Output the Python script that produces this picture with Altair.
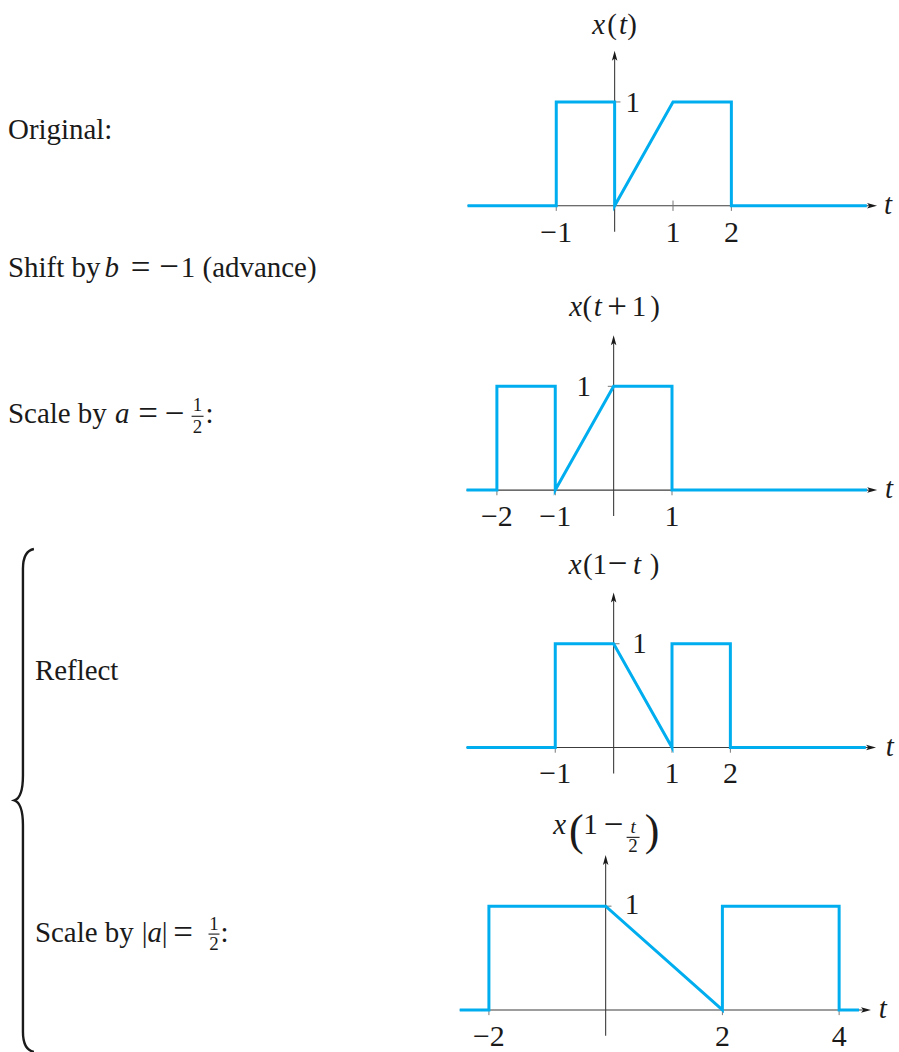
import altair as alt
import pandas as pd

W = 899
BLUE = "#00AEEF"
INK = "#1a1a1a"
AXIS = "#3c3c3c"
SERIF = "Liberation Serif"
FS = 29          # text and label size
FS_OP = 35       # binary operators (=, +, minus) in formulas
FS_SMALL = 19    # fraction digits
FS_BIG = 44      # tall parentheses
PX_T = 58.5      # pixels per unit of t
PX_Y = 104.0     # pixels per unit of amplitude

# ---- waveforms: breakpoints (t, value) ----
T_ORIG = [-2.52, -1, -1, 0, 0, 1, 2, 2, 4.32]
X_ORIG = [0, 0, 1, 1, 0, 1, 1, 0, 0]
T_SHIFT = [-2.52, -2, -2, -1, -1, 0, 1, 1, 4.34]
X_SHIFT = [0, 0, 1, 1, 0, 1, 1, 0, 0]
T_REFL = [-2.52, -1, -1, 0, 1, 1, 2, 2, 4.32]
X_REFL = [0, 0, 1, 1, 0, 1, 1, 0, 0]
T_HALF = [-2.5, -2, -2, 0, 2, 2, 4, 4, 4.34]
X_HALF = [0, 0, 1, 1, 0, 1, 1, 0, 0]

# ---- tick positions ----
TICKS_ORIG = [-1, 1, 2]
TICKS_SHIFT = [-2, -1, 1]
TICKS_REFL = [-1, 1, 2]
TICKS_HALF = [-2, 2, 4]


def tick_text(v):
    return ("\u2212" + str(abs(v))) if v < 0 else str(v)


ONE = pd.DataFrame({"k": [0]})

ARROW_RIGHT = "M -1 -0.55 L 1 0 L -1 0.55 L -0.55 0 Z"
ARROW_UP = "M -0.55 1 L 0 -1 L 0.55 1 L 0 0.55 Z"
BRACE = ("M 0.0438 -1.004 Q 0 -0.996 0 -0.924 L 0 -0.0996 Q 0 -0.012 -0.034 0 "
         "Q 0 0.012 0 0.0996 L 0 0.924 Q 0 0.996 0.0438 1.004")

# style shortcuts for formula pieces
IT = {"italic": True}
C = {"align": "center"}
ITC = {"italic": True, "align": "center"}
OP = {"size": FS_OP, "align": "center", "dy": 2}
NUM = {"size": FS_SMALL, "align": "center"}


class Panel:
    def __init__(self, top, h, axis_px, base_px):
        self.h = h
        self.xs = alt.Scale(domain=[-axis_px / PX_T, (W - axis_px) / PX_T], nice=False, zero=False)
        self.ys = alt.Scale(domain=[(base_px - top - h) / PX_Y, (base_px - top) / PX_Y],
                            nice=False, zero=False)
        self.layers = []

    def X(self, t):
        return alt.XDatum(t, type="quantitative", scale=self.xs, axis=None)

    def Y(self, y):
        return alt.YDatum(y, type="quantitative", scale=self.ys, axis=None)

    def text(self, t, y, s, dx=0, dy=0, italic=False, size=FS, align="left"):
        self.layers.append(
            alt.Chart(ONE).mark_text(
                text=s, dx=dx, dy=dy, font=SERIF, fontSize=size,
                fontStyle="italic" if italic else "normal",
                align=align, baseline="alphabetic", color=INK,
            ).encode(x=self.X(t), y=self.Y(y))
        )

    def pieces(self, t, y, items):
        for it in items:
            s, dx = it[0], it[1]
            opts = dict(it[2]) if len(it) > 2 else {}
            extra_dy = it[3] if len(it) > 3 else 0
            opts["dy"] = opts.get("dy", 0) + extra_dy
            self.text(t, y, s, dx=dx, **opts)

    def bar(self, t, y, dx0, dx1, dy):
        # fraction bar, offsets in pixels from the label anchor
        self.layers.append(
            alt.Chart(ONE).mark_rule(color=INK, strokeWidth=1.1).encode(
                x=self.X(t + dx0 / PX_T),
                x2=alt.X2Datum(t + dx1 / PX_T),
                y=self.Y(y - dy / PX_Y),
            )
        )

    def point(self, t, y, shape, size, filled=True, stroke_w=0):
        self.layers.append(
            alt.Chart(ONE).mark_point(
                shape=shape, size=size, filled=filled, opacity=1, color=INK,
                strokeWidth=stroke_w,
            ).encode(x=self.X(t), y=self.Y(y))
        )

    def signal(self, ts, vs, ticks, arrow_t):
        # axes
        axes = pd.DataFrame({
            "a": [ts[0], 0.0], "b": [arrow_t, 0.0],
            "c": [0.0, -0.25], "d": [0.0, 1.445],
        })
        self.layers.append(
            alt.Chart(axes).mark_rule(color=AXIS, strokeWidth=1.1).encode(
                x=alt.X("a:Q", scale=self.xs, axis=None), x2="b:Q",
                y=alt.Y("c:Q", scale=self.ys, axis=None), y2="d:Q",
            )
        )
        tk = pd.DataFrame({"t": ticks, "lo": [-0.05] * len(ticks), "hi": [0.05] * len(ticks)})
        self.layers.append(
            alt.Chart(tk).mark_rule(color="#777777", strokeWidth=1).encode(
                x=alt.X("t:Q", scale=self.xs, axis=None),
                y=alt.Y("lo:Q", scale=self.ys, axis=None), y2="hi:Q",
            )
        )
        self.layers.append(
            alt.Chart(ONE).mark_rule(color="#777777", strokeWidth=1).encode(
                x=self.X(-0.1), x2=alt.X2Datum(0.1), y=self.Y(1.0),
            )
        )
        # waveform
        df = pd.DataFrame({"t": ts, "v": vs, "i": list(range(len(ts)))})
        self.layers.append(
            alt.Chart(df).mark_line(color=BLUE, strokeWidth=3, strokeJoin="miter").encode(
                x=alt.X("t:Q", scale=self.xs, axis=None),
                y=alt.Y("v:Q", scale=self.ys, axis=None),
                order="i:Q",
            )
        )
        # arrowheads
        self.point(arrow_t, 0.0, ARROW_RIGHT, 100)
        self.point(0.0, 1.445, ARROW_UP, 100)
        # tick labels
        lab = pd.DataFrame({"t": ticks, "s": [tick_text(v) for v in ticks],
                            "y": [-0.346] * len(ticks)})
        self.layers.append(
            alt.Chart(lab).mark_text(font=SERIF, fontSize=FS + 1, align="center",
                                     baseline="alphabetic", color=INK).encode(
                x=alt.X("t:Q", scale=self.xs, axis=None),
                y=alt.Y("y:Q", scale=self.ys, axis=None),
                text="s:N",
            )
        )

    def chart(self):
        return alt.layer(*self.layers).properties(width=W, height=self.h)


# ---- panel 1: original ----
p1 = Panel(top=0, h=262, axis_px=615, base_px=204)
p1.signal(T_ORIG, X_ORIG, TICKS_ORIG, 4.41)
p1.text(0.308, 0.904, "1", align="center")
p1.text(4.615, -0.077, "t", italic=True)
p1.pieces(0.0, 1.654, [
    ("x", -16, ITC), ("(", -2.5, C), ("t", 8.5, ITC), (")", 17.5, C),
])
p1.text(-10.393, 0.644, "Original:")

# ---- panel 2: shifted ----
p2 = Panel(top=262, h=258, axis_px=614, base_px=489)
p2.signal(T_SHIFT, X_SHIFT, TICKS_SHIFT, 4.43)
p2.text(-0.513, 0.904, "1", align="center")
p2.text(4.65, -0.077, "t", italic=True)
p2.pieces(0.0, 1.673, [
    ("x", -38, ITC), ("(", -26.5, C), ("t", -16, ITC),
    ("+", 3.5, OP), ("1", 25.5, C), (")", 41.5, C),
])
p2.pieces(-10.376, 2.058, [
    ("Shift by", 0), ("b", 104, ITC), ("=", 133, OP),
    ("\u2212", 161.5, OP, -0.5), ("1", 180.5, C), ("(advance)", 195),
])
p2.pieces(-10.376, 0.644, [
    ("Scale by", 0), ("a", 114.5, ITC), ("=", 140.5, OP), ("\u2212", 167, OP, -0.5),
    ("1", 190, NUM, -12), ("2", 190, NUM, 10),
    (":", 202, C),
])
p2.bar(-10.376, 0.644, 184, 196, -7)

# ---- panel 3: reflected ----
p3 = Panel(top=520, h=270, axis_px=614, base_px=747)
p3.signal(T_REFL, X_REFL, TICKS_REFL, 4.41)
p3.text(0.444, 0.913, "1", align="center")
p3.text(4.66, -0.077, "t", italic=True)
p3.pieces(0.0, 1.673, [
    ("x", -38.5, ITC), ("(", -26, C), ("1", -14, C), ("\u2212", 4, OP, -0.5),
    ("t", 23.5, ITC), (")", 41, C),
])
p3.text(-9.915, 0.654, "Reflect")

# ---- panel 4: time-scaled ----
p4 = Panel(top=790, h=262, axis_px=606, base_px=1010)
p4.signal(T_HALF, X_HALF, TICKS_HALF, 4.46)
p4.text(0.453, 0.923, "1", align="center")
p4.text(4.68, -0.077, "t", italic=True)
p4.pieces(0.0, 1.692, [
    ("x", -46, ITC),
    ("(", -29.3, {"size": FS_BIG, "align": "center", "dy": 11}),
    ("1", -15.2, C), ("\u2212", 8, OP, -0.5),
    ("t", 27.5, {"size": FS_SMALL, "italic": True, "align": "center", "dy": -1}),
    ("2", 27.5, NUM, 18),
    (")", 46.5, {"size": FS_BIG, "align": "center", "dy": 11}),
])
p4.bar(0.0, 1.692, 21, 34, 3)
p4.pieces(-9.778, 0.654, [
    ("Scale by", 0), ("|", 110, C), ("a", 120, ITC), ("|", 130, C), ("=", 148.5, OP),
    ("1", 179.5, NUM, -12), ("2", 179.5, NUM, 8),
    (":", 190, C),
])
p4.bar(-9.778, 0.654, 174, 185, -8)
# curly brace grouping the last two steps
p4.point(-9.983, 2.019, BRACE, 252004, filled=False, stroke_w=2.4)

chart = alt.vconcat(
    p1.chart(), p2.chart(), p3.chart(), p4.chart(), spacing=0, bounds="flush"
).properties(padding=0).configure_view(stroke="transparent")

chart.save("out.html", embed_options={"renderer": "svg", "actions": False})
